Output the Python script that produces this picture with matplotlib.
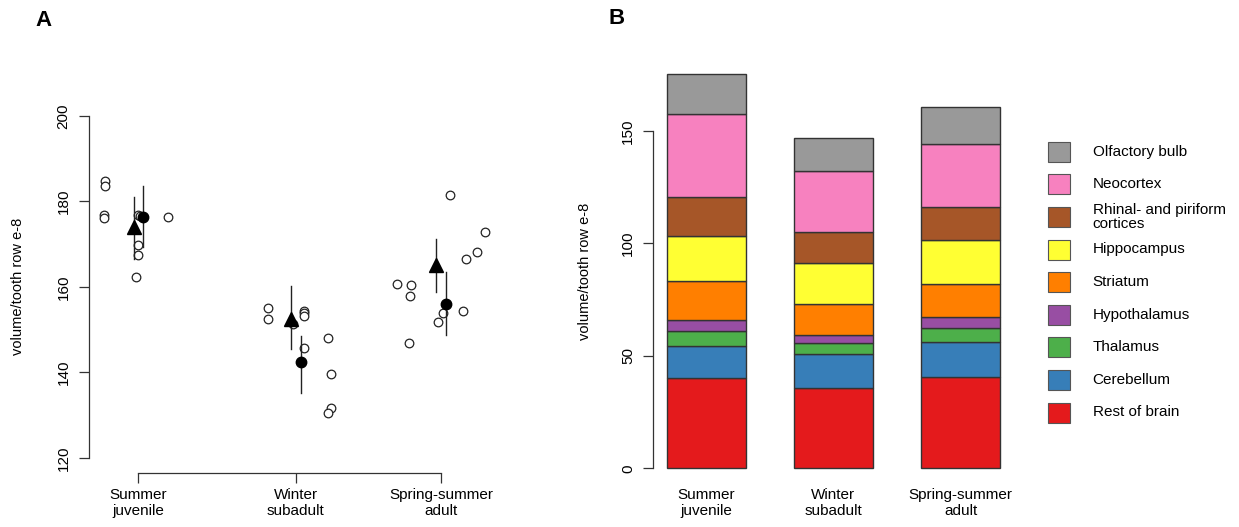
import matplotlib.pyplot as plt
from matplotlib.patches import Rectangle

plt.rcParams['font.family'] = ['Liberation Sans', 'DejaVu Sans']

W, H = 1239, 527

groups = ["Summer\njuvenile", "Winter\nsubadult", "Spring-summer\nadult"]
group_pos = [1.0, 2.04, 3.0]

# panel A: individual values (open circles) and the horizontal jitter used
juv_vals = [184.7, 183.5, 176.8, 176.2, 176.9, 176.6, 169.8, 167.5, 162.4, 176.3]
juv_jit = [-0.22, -0.22, -0.225, -0.225, -0.004, 0.01, -0.004, -0.004, -0.017, 0.194]
sub_vals = [155.1, 152.4, 151.4, 154.3, 153.8, 153.2, 145.7, 148.0, 139.6, 131.8, 130.6]
sub_jit = [-0.18, -0.18, -0.015, 0.053, 0.053, 0.053, 0.053, 0.211, 0.236, 0.236, 0.211]
adu_vals = [181.4, 172.8, 168.2, 166.5, 160.6, 160.4, 157.9, 154.4, 153.8, 151.7, 147.0]
adu_jit = [0.06, 0.29, 0.24, 0.165, -0.289, -0.198, -0.205, 0.147, 0.015, -0.018, -0.211]

# group means with intervals (triangle / filled circle)
tri_mean = [174.1, 152.6, 165.1]
tri_lo = [166.5, 145.6, 158.8]
tri_hi = [181.0, 160.3, 171.2]
dot_mean = [176.3, 142.4, 155.9]
dot_lo = [169.3, 135.3, 148.8]
dot_hi = [183.7, 148.6, 163.4]
tri_jit = -0.03
dot_jit = 0.032

# panel B: stacked region volumes, bottom to top
rest = [40.2, 35.6, 40.7]
cereb = [14.3, 15.2, 15.3]
thal = [6.7, 4.8, 6.5]
hypo = [4.9, 3.6, 4.8]
striat = [17.1, 13.9, 14.6]
hippo = [20.3, 18.4, 19.7]
rhinal = [17.0, 13.8, 14.8]
neo = [37.1, 26.8, 27.7]
olf = [18.0, 14.7, 16.8]

regions = ["Rest of brain", "Cerebellum", "Thalamus", "Hypothalamus", "Striatum",
           "Hippocampus", "Rhinal- and piriform\ncortices", "Neocortex", "Olfactory bulb"]
region_vals = [rest, cereb, thal, hypo, striat, hippo, rhinal, neo, olf]
colors = ["#E41A1C", "#377EB8", "#4DAF4A", "#984EA3", "#FF7F00",
          "#FFFF33", "#A65628", "#F781BF", "#999999"]

fig = plt.figure(figsize=(W / 100, H / 100), dpi=100)

# ---------------- panel A ----------------
axA = fig.add_axes([88.5 / W, 1 - 473 / H, (490.8 - 88.5) / W, (473 - 100) / H])
axA.set_xlim(0.671, 3.329)
axA.set_ylim(116.5, 203.7)

for g, (vals, jit) in enumerate([(juv_vals, juv_jit), (sub_vals, sub_jit), (adu_vals, adu_jit)]):
    xs = [group_pos[g] + j for j in jit]
    axA.plot(xs, vals, 'o', ms=6.2, mfc='white', mec='#222222', mew=0.9, clip_on=False)

for g in range(3):
    xt = group_pos[g] + tri_jit
    xd = group_pos[g] + dot_jit
    axA.plot([xt, xt], [tri_lo[g], tri_hi[g]], color='#222222', lw=1)
    axA.plot([xd, xd], [dot_lo[g], dot_hi[g]], color='#222222', lw=1)
    axA.plot(xt, tri_mean[g], '^', ms=9.5, color='black')
    axA.plot(xd, dot_mean[g], 'o', ms=7.5, color='black')

for s in ['top', 'right']:
    axA.spines[s].set_visible(False)
axA.spines['left'].set_bounds(120, 200)
axA.spines['bottom'].set_bounds(group_pos[0], group_pos[-1])
for s in ['left', 'bottom']:
    axA.spines[s].set_color('#333333')
    axA.spines[s].set_linewidth(0.9)
axA.set_yticks([120, 140, 160, 180, 200])
axA.set_xticks(group_pos)
axA.set_xticklabels(groups, fontsize=11, linespacing=1.15)
axA.tick_params(axis='both', length=7, width=0.9, color='#333333', labelsize=11)
axA.tick_params(axis='y', pad=6)
axA.tick_params(axis='x', pad=4)
for lab in axA.get_yticklabels():
    lab.set_rotation(90)
    lab.set_va('center')
axA.set_ylabel("volume/tooth row e-8", fontsize=10.5)
axA.yaxis.set_label_coords((25 - 88.5) / (490.8 - 88.5), 0.5)

# ---------------- panel B ----------------
axB = fig.add_axes([653.3 / W, 1 - 484 / H, (1013.6 - 653.3) / W, (484 - 57.8) / H])
axB.set_xlim(-0.416, 2.416)
axB.set_ylim(-7, 182.6)
xb = [0, 1, 2]
bottom = [0.0, 0.0, 0.0]
for vals, c in zip(region_vals, colors):
    axB.bar(xb, vals, width=0.623, bottom=bottom, color=c, edgecolor='#333333', linewidth=1)
    bottom = [b + v for b, v in zip(bottom, vals)]

for s in ['top', 'right', 'bottom']:
    axB.spines[s].set_visible(False)
axB.spines['left'].set_bounds(0, 150)
axB.spines['left'].set_color('#333333')
axB.spines['left'].set_linewidth(0.9)
axB.set_yticks([0, 50, 100, 150])
axB.set_xticks(xb)
axB.set_xticklabels(groups, fontsize=11, linespacing=1.15)
axB.tick_params(axis='y', length=7, width=0.9, color='#333333', labelsize=11, pad=6)
axB.tick_params(axis='x', length=0, pad=3)
for lab in axB.get_yticklabels():
    lab.set_rotation(90)
    lab.set_va('center')
axB.set_ylabel("volume/tooth row e-8", fontsize=10.5)
axB.yaxis.set_label_coords((592 - 653.3) / (1013.6 - 653.3), 0.5)

# legend, drawn top to bottom
for i, k in enumerate(range(len(regions) - 1, -1, -1)):
    yc = 151.7 + 32.6 * i
    fig.add_artist(Rectangle((1048 / W, 1 - (yc + 10) / H), 22 / W, 20 / H,
                             transform=fig.transFigure, facecolor=colors[k],
                             edgecolor='#555555', linewidth=0.8))
    fig.text(1092.7 / W, 1 - yc / H, regions[k], fontsize=11, va='center', ha='left',
             linespacing=1.05)

fig.text(43 / W, 1 - 21 / H, "A", fontsize=16, fontweight='bold', ha='center', va='center')
fig.text(617 / W, 1 - 19 / H, "B", fontsize=16, fontweight='bold', ha='center', va='center')

fig.savefig("out.png", dpi=100)
